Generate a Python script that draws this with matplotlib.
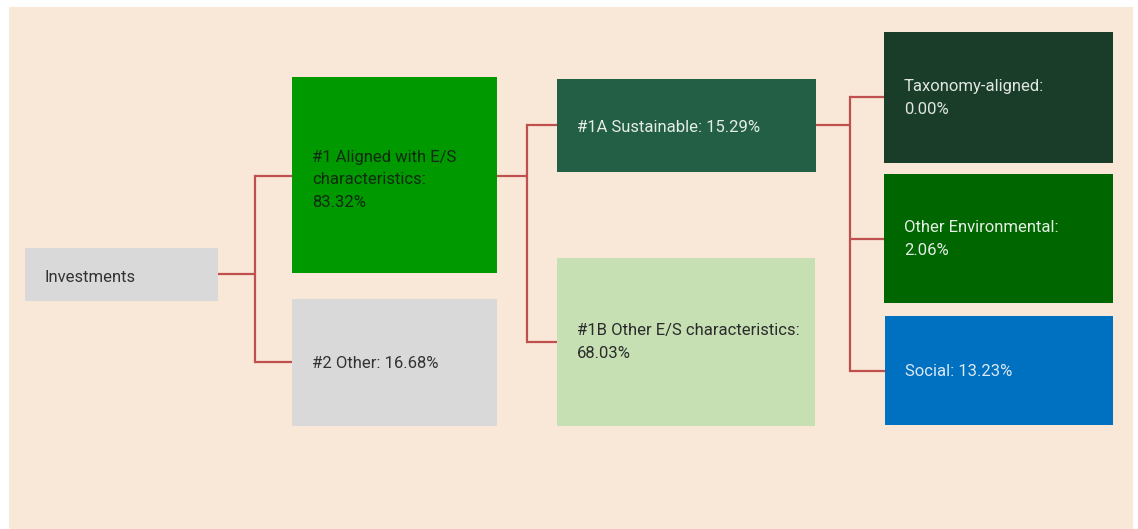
import matplotlib
matplotlib.use("Agg")
import matplotlib.pyplot as plt
from matplotlib.patches import Rectangle

# ---- data ----
node_names = ["Investments", "#1 Aligned with E/S\ncharacteristics:", "#2 Other:",
              "#1A Sustainable:", "#1B Other E/S characteristics:",
              "Taxonomy-aligned:", "Other Environmental:", "Social:"]
node_values = [None, 83.32, 16.68, 15.29, 68.03, 0.00, 2.06, 13.23]
value_on_new_line = [False, True, False, False, True, True, True, False]
parents = [None, 0, 0, 1, 1, 3, 3, 3]

# ---- layout (pixel space, y downward) ----
boxes = [  # x0, y0, x1, y1
    (25, 248, 218, 301),
    (292, 77, 497, 273),
    (292, 299, 497, 426),
    (557, 79, 816, 172),
    (557, 258, 815, 426),
    (884, 32, 1113, 163),
    (884, 174, 1113, 303),
    (885, 316, 1113, 425),
]
anchor_y = [274, 176, 362, 125, 342, 97, 239, 371]
text_y = [278, 180, 363, 127, 342, 98, 239, 372]
branch_x = {0: 255, 1: 527, 3: 850}
fills = ["#d9d9d9", "#009900", "#d9d9d9", "#225f44", "#c6e0b4",
         "#1a3d29", "#006600", "#0070c0"]
text_colors = ["#333333", "#102a10", "#333333", "#e6ece8", "#2b2b2b",
               "#e0e6e2", "#e6eee6", "#dce8f4"]

W, H = 1138, 529
fig = plt.figure(figsize=(W / 100, H / 100), dpi=100)
fig.patch.set_facecolor("white")
ax = fig.add_axes([0, 0, 1, 1])
ax.set_xlim(0, W)
ax.set_ylim(H, 0)
ax.axis("off")

fam = ["Roboto", "DejaVu Sans"]

ax.add_patch(Rectangle((9, 7), 1133 - 9, H - 7, facecolor="#f9e8d8", edgecolor="none", zorder=0))

line_color = "#c0504d"
lw = 1.6
for p, bx in branch_x.items():
    kids = [i for i, pp in enumerate(parents) if pp == p]
    ys = [anchor_y[k] for k in kids]
    ax.plot([boxes[p][2], bx], [anchor_y[p], anchor_y[p]], color=line_color, lw=lw, zorder=1, solid_capstyle="butt")
    ax.plot([bx, bx], [min(ys), max(ys)], color=line_color, lw=lw, zorder=1, solid_capstyle="projecting")
    for k in kids:
        ax.plot([bx, boxes[k][0]], [anchor_y[k], anchor_y[k]], color=line_color, lw=lw, zorder=1, solid_capstyle="butt")

for i, (x0, y0, x1, y1) in enumerate(boxes):
    ax.add_patch(Rectangle((x0, y0), x1 - x0, y1 - y0, facecolor=fills[i], edgecolor="none", zorder=2))
    label = node_names[i]
    if node_values[i] is not None:
        sep = "\n" if value_on_new_line[i] else " "
        label = f"{label}{sep}{node_values[i]:.2f}%"
    ax.text(x0 + 20, text_y[i], label, color=text_colors[i], fontsize=12,
            family=fam, va="center", ha="left", linespacing=1.62, zorder=3)

fig.savefig("out.png", dpi=100, facecolor="white")
